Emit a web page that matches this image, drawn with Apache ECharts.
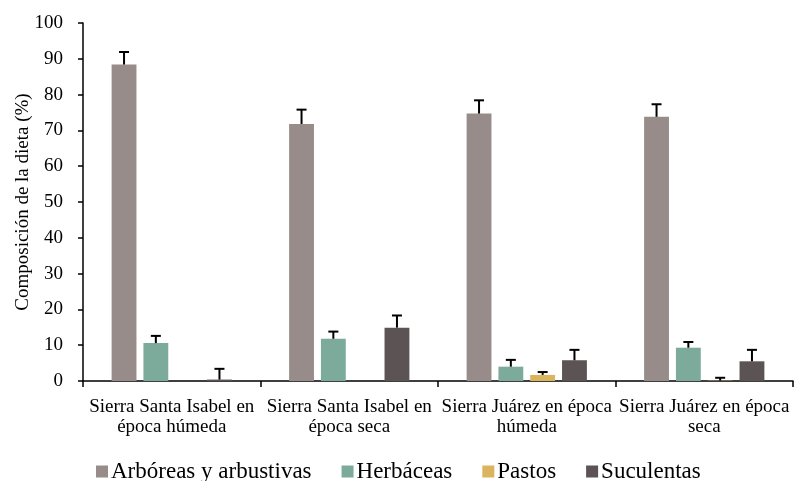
<!DOCTYPE html>
<html>
<head>
<meta charset="utf-8">
<script src="https://cdn.jsdelivr.net/npm/echarts@6/dist/echarts.min.js"></script>
<style>
  html, body { margin: 0; padding: 0; background: #fff; }
  #chart { width: 794px; height: 481px; }
</style>
</head>
<body>
<div id="chart"></div>
<script>
// Diet composition (%) by site and season, with standard error
var categories = [
  'Sierra Santa Isabel en\népoca húmeda',
  'Sierra Santa Isabel en\népoca seca',
  'Sierra Juárez en época\nhúmeda',
  'Sierra Juárez en época\nseca'
];
var seriesNames = ['Arbóreas y arbustivas', 'Herbáceas', 'Pastos', 'Suculentas'];
var arboreas = [88.4, 71.8, 74.7, 73.8];
var herbaceas = [10.6, 11.8, 4.0, 9.3];
var pastos = [0, 0, 1.7, 0.1];
var suculentas = [0.4, 14.9, 5.8, 5.5];
var errArboreas = [3.5, 4.0, 3.7, 3.5];
var errHerbaceas = [2.0, 2.0, 1.9, 1.6];
var errPastos = [0, 0, 0.8, 0.8];
var errSuculentas = [3.0, 3.4, 2.9, 3.2];
var colors = ['#978c8a', '#7caa9b', '#dbb460', '#5b5354'];

var values = [arboreas, herbaceas, pastos, suculentas];
var errors = [errArboreas, errHerbaceas, errPastos, errSuculentas];

var BAR_W = 0.14;   // bar width as a fraction of the category band
var BAR_GAP = 0.28; // gap between bars as a fraction of bar width

function errorBarSeries(si) {
  var data = values[si].map(function (v, i) {
    return [i, v, errors[si][i]];
  });
  return {
    type: 'custom',
    name: seriesNames[si] + ' error',
    silent: true,
    z: 5,
    data: data,
    encode: { x: 0, y: 1 },
    renderItem: function (params, api) {
      var err = api.value(2);
      if (!err) return null;
      var band = api.size([1, 0])[0];
      var bw = band * BAR_W;
      var step = bw * (1 + BAR_GAP);
      var offset = (si - 1.5) * step;
      var base = api.coord([api.value(0), api.value(1)]);
      var top = api.coord([api.value(0), api.value(1) + err]);
      var x = base[0] + offset;
      var half = 5;
      var style = { stroke: '#000', lineWidth: 2 };
      return {
        type: 'group',
        children: [
          { type: 'line', shape: { x1: x, y1: base[1], x2: x, y2: top[1] }, style: style },
          { type: 'line', shape: { x1: x - half, y1: top[1], x2: x + half, y2: top[1] }, style: style }
        ]
      };
    }
  };
}

var series = [];
for (var s = 0; s < 4; s++) {
  series.push({
    type: 'bar',
    name: seriesNames[s],
    data: values[s],
    barWidth: (BAR_W * 100) + '%',
    barGap: (BAR_GAP * 100) + '%',
    itemStyle: { color: colors[s] }
  });
}
for (var e = 0; e < 4; e++) series.push(errorBarSeries(e));

var font = 'Liberation Serif';
var chart = echarts.init(document.getElementById('chart'), null, { renderer: 'canvas' });
chart.setOption({
  animation: false,
  backgroundColor: '#fff',
  grid: { left: 83, right: 1, top: 23, bottom: 100, containLabel: false },
  legend: {
    data: seriesNames,
    top: 455,
    left: 91,
    itemWidth: 12,
    itemHeight: 12,
    itemGap: 30,
    icon: 'rect',
    textStyle: { fontFamily: font, fontSize: 23, color: '#000', padding: [0, 0, 0, -2] }
  },
  xAxis: {
    type: 'category',
    data: categories,
    axisLine: { lineStyle: { color: '#000', width: 1.5 } },
    axisTick: { show: true, length: 6, alignWithLabel: false, lineStyle: { color: '#000', width: 1.5 } },
    axisLabel: {
      interval: 0,
      margin: 16,
      color: '#000',
      fontFamily: font,
      fontSize: 19,
      lineHeight: 20
    }
  },
  yAxis: {
    type: 'value',
    min: 0,
    max: 100,
    interval: 10,
    name: 'Composición de la dieta (%)',
    nameLocation: 'middle',
    nameGap: 50,
    nameMoveOverlap: false,
    nameTextStyle: { fontFamily: font, fontSize: 19, color: '#000' },
    splitLine: { show: false },
    axisLine: { show: true, lineStyle: { color: '#000', width: 1.5 } },
    axisTick: { show: true, length: 5, lineStyle: { color: '#000', width: 1.5 } },
    axisLabel: { margin: 20, color: '#000', fontFamily: font, fontSize: 19 }
  },
  series: series
});
</script>
</body>
</html>
